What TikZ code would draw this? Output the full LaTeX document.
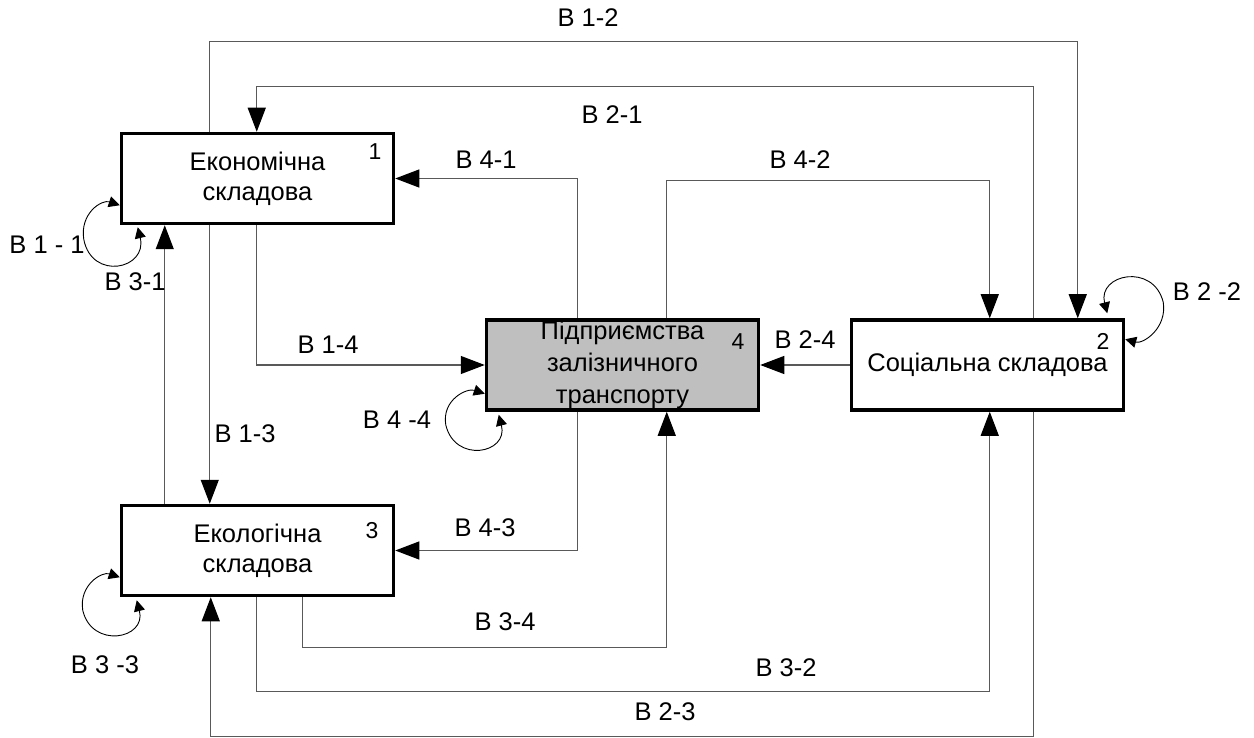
\documentclass[tikz,border=0pt]{standalone}
\usepackage{fontspec}
\setmainfont{Liberation Sans}
\usetikzlibrary{arrows.meta,calc}

\tikzset{
  box/.style={draw, line width=3.5pt, minimum width=272pt, minimum height=90pt,
    inner sep=0pt, align=center, font=\fontsize{25.5}{30}\selectfont},
  conn/.style={draw=black!65, line width=1.2pt,
    -{Triangle[length=24pt,width=18pt,color=black]}},
  loopline/.style={draw=black, line width=0.9pt,
    {Triangle[length=11pt,width=11pt]}-{Triangle[length=11pt,width=11pt]}},
  lbl/.style={font=\fontsize{25.5}{30}\selectfont, inner sep=0pt},
  num/.style={font=\fontsize{23}{27}\selectfont, inner sep=0pt}
}

\begin{document}
\begin{tikzpicture}[x=1pt,y=-1pt]
\path[use as bounding box] (0,0) rectangle (1254,738);

% the four components
\node[box] (b1) at (257.5,178.5) {Економічна\\складова};
\node[box] (b3) at (257.5,550.5) {Екологічна\\складова};
\node[box, fill=black!25, font=\fontsize{25.5}{32}\selectfont] (b4) at (622.5,365)
  {Підприємства\\залізничного\\транспорту};
\node[box] (b2) at (987.5,365) {Соціальна складова};

% component numbers
\node[num] (n1) at (375,152) {1};
\node[num] (n4) at (738,342) {4};
\node[num] (n2) at (1103,341) {2};
\node[num] (n3) at (372,531) {3};

% influences between components
\draw[conn] ($(b1.north west)+(90,0)$) -- ++(0,-90) -| ($(b2.north west)+(228,0)$);
\draw[conn] ($(b2.north west)+(184,0)$) -- ++(0,-232) -| ($(b1.north west)+(137,0)$);
\draw[conn] ($(b4.north west)+(93,0)$) |- (b1.east);
\draw[conn] ($(b4.north west)+(182,0)$) -- ++(0,-138) -| ($(b2.north west)+(140,0)$);
\draw[conn] ($(b1.south west)+(137,0)$) |- (b4.west);
\draw[conn] ($(b1.south west)+(90,0)$) -- ($(b3.north west)+(90,0)$);
\draw[conn] ($(b3.north west)+(45,0)$) -- ($(b1.south west)+(45,0)$);
\draw[conn] (b2.west) -- (b4.east);
\draw[conn] ($(b4.south west)+(93,0)$) |- (b3.east);
\draw[conn] ($(b3.south west)+(183,0)$) -- ++(0,50) -| ($(b4.south west)+(182,0)$);
\draw[conn] ($(b3.south west)+(137,0)$) -- ++(0,94) -| ($(b2.south west)+(140,0)$);
\draw[conn] ($(b2.south west)+(184,0)$) -- ++(0,325) -| ($(b3.south west)+(91,0)$);

% self-influence loops
\begin{scope}[shift={(b1.south west)}]
  \draw[loopline] (18,2) .. controls (28,44) and (-28,56) .. (-36,14)
    .. controls (-40,-12) and (-18,-26) .. (0,-20);
\end{scope}
\begin{scope}[shift={(b3.south west)}]
  \draw[loopline] (17,3) .. controls (27,42) and (-28,52) .. (-37,13)
    .. controls (-41,-12) and (-18,-26) .. (0,-20);
\end{scope}
\begin{scope}[shift={(b4.south west)}]
  \draw[loopline] (14,3) .. controls (24,42) and (-30,52) .. (-39,13)
    .. controls (-43,-12) and (-18,-24) .. (0,-18);
\end{scope}
\begin{scope}[shift={(b2.north east)}]
  \draw[loopline] (-18,-5) .. controls (-28,-44) and (28,-56) .. (38,-16)
    .. controls (42,10) and (18,26) .. (0,21);
\end{scope}

% influence labels
\node[lbl] (l12) at (588,18) {В 1-2};
\node[lbl] (l21) at (612,115) {В 2-1};
\node[lbl] (l41) at (486,160) {В 4-1};
\node[lbl] (l42) at (800,160) {В 4-2};
\node[lbl] (l11) at (47,245) {В 1 - 1};
\node[lbl] (l31) at (135,282) {В 3-1};
\node[lbl] (l14) at (328,345) {В 1-4};
\node[lbl] (l24) at (805,340) {В 2-4};
\node[lbl] (l22) at (1207,292) {В 2 -2};
\node[lbl] (l44) at (397,420) {В 4 -4};
\node[lbl] (l13) at (245,434) {В 1-3};
\node[lbl] (l43) at (485,528) {В 4-3};
\node[lbl] (l34) at (505,622) {В 3-4};
\node[lbl] (l33) at (105,665) {В 3 -3};
\node[lbl] (l32) at (786,668) {В 3-2};
\node[lbl] (l23) at (665,712) {В 2-3};
\end{tikzpicture}
\end{document}
